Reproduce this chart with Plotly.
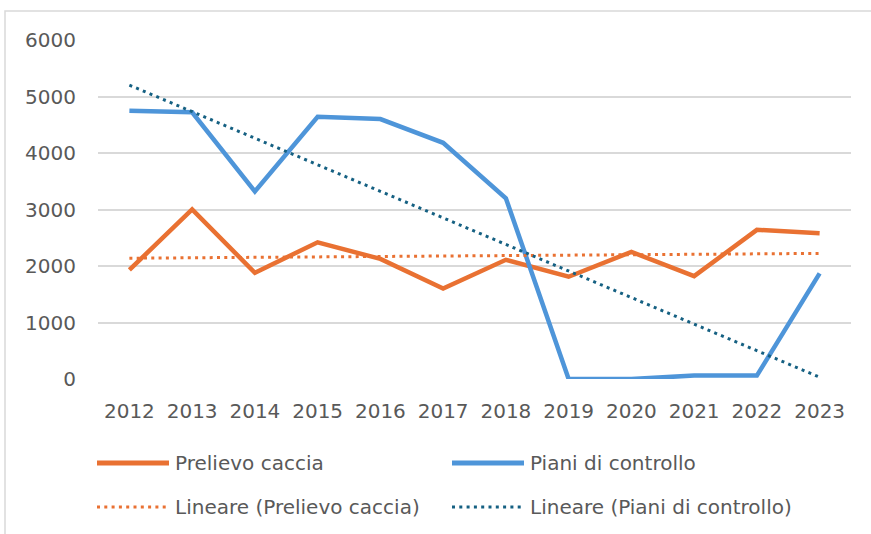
import numpy as np
import plotly.graph_objects as go

# data
YEARS = ['2012', '2013', '2014', '2015', '2016', '2017', '2018', '2019', '2020', '2021', '2022', '2023']
PRELIEVO_CACCIA = [1930, 3000, 1880, 2420, 2125, 1600, 2110, 1810, 2250, 1820, 2640, 2580]
PIANI_CONTROLLO = [4750, 4720, 3320, 4640, 4600, 4180, 3200, 0, 0, 60, 60, 1870]

ORANGE = '#E97132'
BLUE = '#4E95D9'
TEAL = '#156082'
TEXT = '#595959'
FONT = 'DejaVu Sans'
FS = 20

W, H = 871, 534
L, R, T, B = 98, 20, 40, 155
PW, PH = W - L - R, H - T - B


def px_x(x):
    return (x - L) / PW


def px_y(y):
    return (H - B - y) / PH


def linear_trend(values):
    # same as Excel "Lineare" trendline: least squares fit over category index
    idx = np.arange(len(values))
    slope, icpt = np.polyfit(idx, values, 1)
    return slope * idx + icpt


fig = go.Figure()
fig.add_trace(go.Scatter(x=YEARS, y=PRELIEVO_CACCIA, mode='lines', name='Prelievo caccia',
                         line=dict(color=ORANGE, width=4.5)))
fig.add_trace(go.Scatter(x=YEARS, y=PIANI_CONTROLLO, mode='lines', name='Piani di controllo',
                         line=dict(color=BLUE, width=4.5)))
fig.add_trace(go.Scatter(x=YEARS, y=linear_trend(PRELIEVO_CACCIA), mode='lines',
                         name='Lineare (Prelievo caccia)',
                         line=dict(color=ORANGE, width=3, dash='3px,4.3px')))
fig.add_trace(go.Scatter(x=YEARS, y=linear_trend(PIANI_CONTROLLO), mode='lines',
                         name='Lineare (Piani di controllo)',
                         line=dict(color=TEAL, width=3, dash='3px,4.3px')))

# legend drawn by hand, Excel style (2 x 2 grid, long line samples)
legend_items = [
    ('Prelievo caccia', ORANGE, 5, 'solid', 97, 463),
    ('Piani di controllo', BLUE, 5, 'solid', 452, 463),
    ('Lineare (Prelievo caccia)', ORANGE, 3, '3px,4.3px', 97, 507),
    ('Lineare (Piani di controllo)', TEAL, 3, '3px,4.3px', 452, 507),
]
shapes = []
annotations = []
for label, color, width, dash, x0, y0 in legend_items:
    shapes.append(dict(type='line', xref='paper', yref='paper',
                       x0=px_x(x0), x1=px_x(x0 + 72), y0=px_y(y0), y1=px_y(y0),
                       line=dict(color=color, width=width, dash=dash)))
    annotations.append(dict(text=label, xref='paper', yref='paper', x=px_x(x0 + 76), y=px_y(y0),
                            xanchor='left', yanchor='middle', showarrow=False,
                            font=dict(family=FONT, size=FS, color=TEXT)))

# chart area border
shapes.append(dict(type='rect', xref='paper', yref='paper', layer='below',
                   x0=px_x(5), x1=px_x(900), y0=px_y(11), y1=px_y(600),
                   line=dict(color='#D9D9D9', width=1.5)))

fig.update_layout(
    width=W, height=H,
    margin=dict(l=L, r=R, t=T, b=B),
    paper_bgcolor='white', plot_bgcolor='white',
    showlegend=False,
    font=dict(family=FONT, size=FS, color=TEXT),
    shapes=shapes,
    annotations=annotations,
)
fig.update_xaxes(type='category', range=[-0.5, len(YEARS) - 0.5], automargin=False,
                 showgrid=False, showline=False, zeroline=False,
                 ticks='', ticklabelstandoff=18, tickfont=dict(size=FS, color=TEXT))
fig.update_yaxes(range=[0, 6000], dtick=1000, automargin=False,
                 showgrid=True, gridcolor='#D9D9D9', gridwidth=1.5,
                 zeroline=False, showline=False, ticks='', ticklabelstandoff=21,
                 tickfont=dict(size=FS, color=TEXT))

# the page's default 8px body margin would shift everything
fig.write_html('out.html', config={'displayModeBar': False},
               post_script="document.body.style.margin='0';")
